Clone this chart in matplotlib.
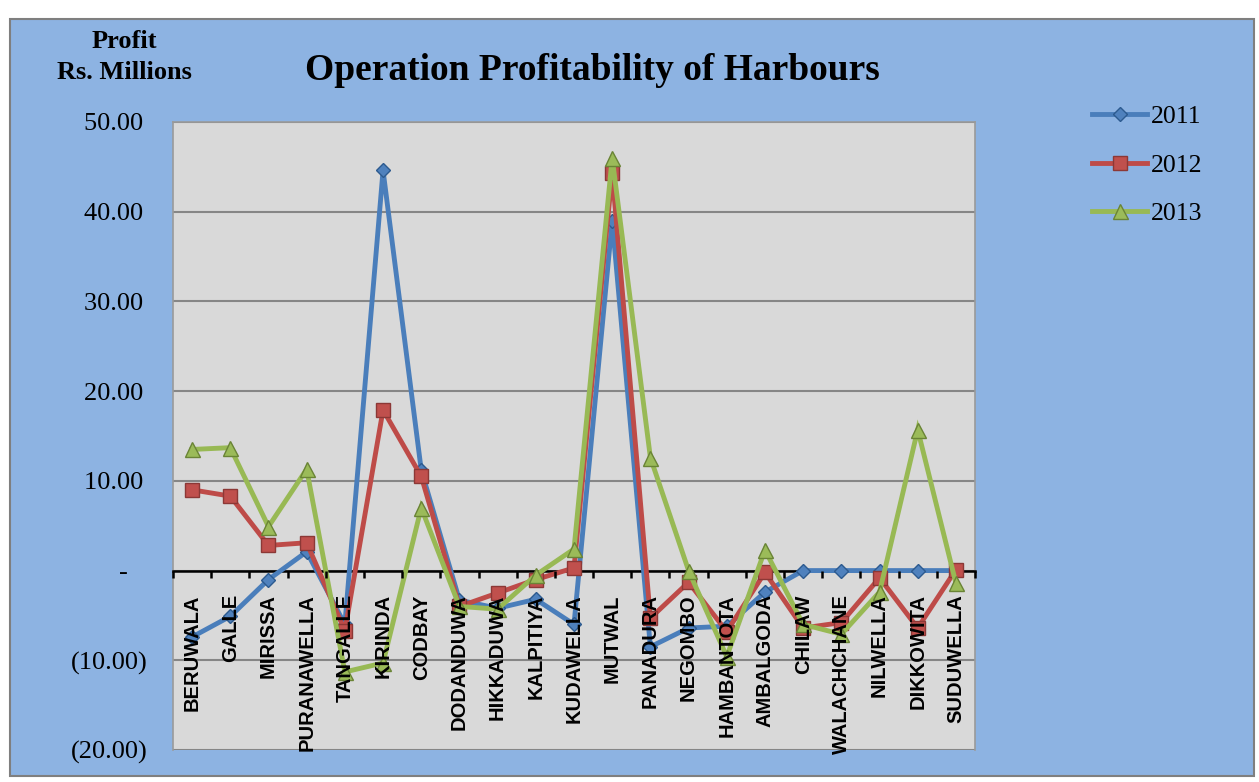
import numpy as np
import matplotlib
matplotlib.use("Agg")
import matplotlib.pyplot as plt
from matplotlib.patches import Rectangle
from matplotlib.ticker import FuncFormatter

harbours = ["BERUWALA", "GALLE", "MIRISSA", "PURANAWELLA", "TANGALLE", "KIRINDA",
            "CODBAY", "DODANDUWA", "HIKKADUWA", "KALPITIYA", "KUDAWELLA", "MUTWAL",
            "PANADURA", "NEGOMBO", "HAMBANTOTA", "AMBALGODA", "CHILAW", "WALACHCHANE",
            "NILWELLA", "DIKKOWITA", "SUDUWELLA"]

profit_2011 = [-7.4, -5.1, -1.0, 2.1, -6.0, 44.6, 11.2, -3.3, -4.2, -3.2, -6.0,
               39.0, -8.5, -6.4, -6.2, -2.4, 0.0, 0.0, 0.0, 0.0, 0.0]
profit_2012 = [9.0, 8.3, 2.8, 3.1, -6.7, 17.9, 10.5, -4.0, -2.5, -1.0, 0.3,
               44.3, -5.3, -1.3, -6.8, -0.2, -6.4, -5.8, -0.8, -6.4, 0.1]
profit_2013 = [13.5, 13.7, 4.9, 11.3, -11.3, -10.3, 7.0, -4.0, -4.3, -0.5, 2.4,
               46.0, 12.6, 0.0, -9.6, 2.3, -6.0, -7.1, -2.4, 15.7, -1.4]

years = ["2011", "2012", "2013"]

W, H = 1259, 782
fig = plt.figure(figsize=(W / 100, H / 100), dpi=100)
fig.patch.set_facecolor("white")

# blue chart area with grey border
fig.add_artist(Rectangle((10 / W, 1 - 776 / H), 1244 / W, 757 / H,
                         transform=fig.transFigure, facecolor="#8DB3E2",
                         edgecolor="#7F7F7F", linewidth=1.5, zorder=0))

ax = fig.add_axes([173 / W, 1 - 750 / H, 802 / W, 628 / H])
ax.set_facecolor("#D9D9D9")

# axis line through zero (set first, it resets the ticks)
ax.spines["bottom"].set_position(("data", 0))
ax.spines["bottom"].set_color("black")
ax.spines["bottom"].set_linewidth(1.8)
ax.spines["bottom"].set_zorder(2.5)
for s in ["top", "left", "right"]:
    ax.spines[s].set_color("#9A9A9A")
    ax.spines[s].set_linewidth(1.2)

x = np.arange(len(harbours))
styles = [
    (profit_2011, "#4A7EBB", "D", 7.6, "#4F81BD", "#2C5A8F"),
    (profit_2012, "#BE4B48", "s", 9.4, "#C0504D", "#8C3836"),
    (profit_2013, "#98B954", "^", 10.8, "#9BBB59", "#6A8436"),
]
for (vals, lc, mk, ms, fc, ec), yr in zip(styles, years):
    ax.plot(x, vals, color=lc, lw=3.5, marker=mk, ms=ms, mfc=fc, mec=ec,
            mew=1.0, label=yr, zorder=3, solid_joinstyle="miter")

ax.set_xlim(-0.5, len(harbours) - 0.5)
ax.set_ylim(-20, 50)
ax.set_yticks(np.arange(-20, 51, 10))


def acct(v, pos):
    if v == 0:
        return "-   "
    if v < 0:
        return f"({abs(v):.2f})"
    return f"{v:.2f}\u2009"


ax.yaxis.set_major_formatter(FuncFormatter(acct))
ax.tick_params(axis="y", length=0, pad=18, labelsize=19)
for t in ax.get_yticklabels():
    t.set_fontfamily("Liberation Serif")

ax.grid(axis="y", color="#868686", lw=1.5)
ax.yaxis.set_zorder(1)

ax.set_xticks(x)
ax.set_xticklabels(harbours, rotation=90, fontsize=14.5, fontweight="bold",
                   fontfamily="Liberation Sans", va="top", ha="center")
ax.set_xticks(np.arange(-0.5, len(harbours), 1.0), minor=True)
ax.tick_params(axis="x", which="major", length=0, pad=17)
ax.tick_params(axis="x", which="minor", length=5, width=1.8, direction="out",
               color="black", bottom=True)
ax.xaxis.set_zorder(4)

fig.text(592 / W, 1 - 70 / H, "Operation Profitability of Harbours", ha="center",
         va="center", fontsize=27, fontweight="bold", fontfamily="Liberation Serif")
fig.text(124 / W, 1 - 57 / H, "Profit\nRs. Millions", ha="center", va="center",
         fontsize=19, fontweight="bold", fontfamily="Liberation Serif",
         linespacing=1.4)

fig.legend(loc="upper left", bbox_to_anchor=(1092 / W, 1 - 105 / H), frameon=False,
           prop={"family": "Liberation Serif", "size": 18.5}, handlelength=2.15,
           handletextpad=0.16, labelspacing=1.0, borderpad=0, borderaxespad=0)

fig.savefig("out.png", dpi=100, facecolor=fig.get_facecolor())
